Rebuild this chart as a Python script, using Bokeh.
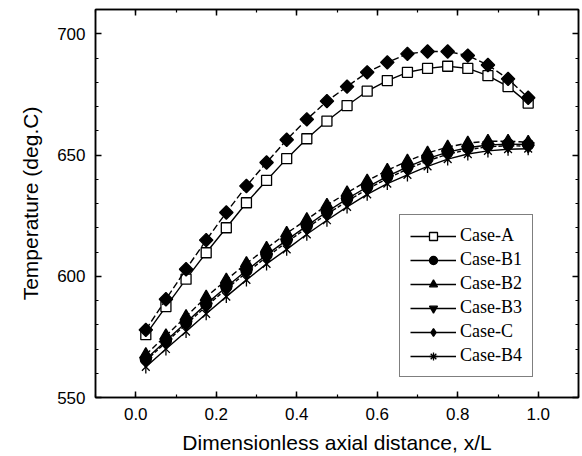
import numpy as np
from bokeh.plotting import figure
from bokeh.models import (LinearAxis, SingleIntervalTicker, NumeralTickFormatter,
                          CustomJSTickFormatter, Legend, LegendItem, Range1d,
                          ColumnDataSource)
from bokeh.embed import file_html
from bokeh.resources import INLINE

# ---------------- data ----------------
x_pos = [0.025, 0.075, 0.125, 0.175, 0.225, 0.275, 0.325, 0.375, 0.425, 0.475,
         0.525, 0.575, 0.625, 0.675, 0.725, 0.775, 0.825, 0.875, 0.925, 0.975]

case_a = [575.9, 587.5, 598.8, 609.7, 620.0, 630.3, 639.5, 648.5, 656.7, 664.0,
          670.4, 676.3, 680.7, 684.1, 685.7, 686.6, 685.7, 682.7, 678.2, 671.4]
case_b1 = [565.8, 573.4, 580.9, 588.5, 595.6, 602.4, 608.8, 614.9, 620.8, 626.6,
           631.9, 636.8, 641.2, 645.1, 648.5, 651.2, 653.0, 654.1, 654.5, 654.3]
case_b2 = [567.7, 575.5, 583.4, 591.4, 598.5, 605.3, 611.5, 617.7, 623.4, 629.3,
           634.4, 639.3, 643.7, 647.5, 650.8, 653.3, 654.9, 655.7, 655.7, 655.3]
case_b3 = [565.2, 572.7, 580.2, 587.6, 594.7, 601.5, 607.9, 614.0, 619.9, 625.6,
           630.9, 635.9, 640.3, 644.2, 647.6, 650.3, 652.2, 653.4, 653.8, 653.7]
case_c = [577.9, 590.5, 602.9, 614.9, 626.3, 637.2, 646.9, 656.3, 664.7, 672.2,
          678.2, 684.1, 688.2, 691.7, 692.7, 692.7, 691.0, 687.1, 681.4, 673.6]
case_b4 = [562.6, 570.0, 577.2, 584.5, 591.6, 598.5, 605.1, 611.1, 617.3, 623.1,
           628.6, 633.8, 638.2, 641.8, 645.3, 648.3, 650.4, 651.7, 652.4, 652.6]

labels = ["Case-A", "Case-B1", "Case-B2", "Case-B3", "Case-C", "Case-B4"]
series = [case_a, case_b1, case_b2, case_b3, case_c, case_b4]

x_label = "Dimensionless axial distance, x/L"
y_label = "Temperature (deg.C)"

# ---------------- styles ----------------
styles = {
    "Case-A":  dict(plot=[("square", 0.0, 10)], leg=[("square", 10)],
                    fill="white", dash="solid"),
    "Case-B1": dict(plot=[("circle", 0.0, 11)], leg=[("circle", 11)],
                    fill="black", dash="solid"),
    "Case-B2": dict(plot=[("triangle", 0.0, 12)], leg=[("triangle", 12)],
                    fill="black", dash="6 3"),
    "Case-B3": dict(plot=[("inverted_triangle", 0.0, 12)], leg=[("inverted_triangle", 12)],
                    fill="black", dash="4 2"),
    "Case-C":  dict(plot=[("square", np.pi / 4, 9.5)], leg=[("diamond", 16)],
                    fill="black", dash="7 3"),
    "Case-B4": dict(plot=[("x", 0.0, 11), ("dash", np.pi / 2, 13)], leg=[("asterisk", 12)],
                    fill="black", dash="solid"),
}

p = figure(width=582, height=456, output_backend="svg", toolbar_location=None,
           x_range=Range1d(-0.1, 1.1), y_range=Range1d(550, 710),
           min_border_left=95, min_border_right=4, min_border_top=9,
           min_border_bottom=58)
p.xgrid.visible = False
p.ygrid.visible = False
p.background_fill_color = "white"
p.border_fill_color = "white"
p.outline_line_color = "black"
p.outline_line_width = 1.5

xt = SingleIntervalTicker(interval=0.2, num_minor_ticks=2)
yt = SingleIntervalTicker(interval=50, num_minor_ticks=5)

def style_axis(ax, ticker):
    ax.ticker = ticker
    ax.major_tick_in = 6
    ax.major_tick_out = 0
    ax.minor_tick_in = 3
    ax.minor_tick_out = 0
    ax.major_tick_line_width = 1.5
    ax.minor_tick_line_width = 1.2
    ax.axis_line_width = 1.5
    ax.major_tick_line_color = "black"
    ax.minor_tick_line_color = "black"
    ax.axis_line_color = "black"

xa = p.xaxis[0]
ya = p.yaxis[0]
style_axis(xa, xt)
style_axis(ya, yt)
xa.formatter = NumeralTickFormatter(format="0.0")
for ax, lab in ((xa, x_label), (ya, y_label)):
    ax.axis_label = lab
    ax.axis_label_text_font = "Liberation Sans"
    ax.axis_label_text_font_style = "normal"
    ax.axis_label_text_font_size = "21px"
    ax.axis_label_text_color = "black"
    ax.major_label_text_font = "Liberation Sans"
    ax.major_label_text_font_size = "17px"
    ax.major_label_text_color = "black"
    ax.major_label_standoff = 10
xa.axis_label_standoff = 8
ya.axis_label_standoff = 12

blank = CustomJSTickFormatter(code="return ''")
top_ax = LinearAxis(formatter=blank)
style_axis(top_ax, xt)
top_ax.major_label_standoff = 0
right_ax = LinearAxis(formatter=blank)
style_axis(right_ax, yt)
right_ax.major_label_standoff = 0
p.add_layout(top_ax, "above")
p.add_layout(right_ax, "right")

items = []
for lab, ys in zip(labels, series):
    st = styles[lab]
    src = ColumnDataSource(dict(x=x_pos, y=ys))
    p.line("x", "y", source=src, line_color="black", line_width=1.4,
           line_dash=st["dash"])
    for mk, ang, sz in st["plot"]:
        p.scatter("x", "y", source=src, marker=mk, angle=ang, size=sz,
                  fill_color=st["fill"], line_color="black", line_width=1.3)
    # legend-only renderers (solid line + marker), nothing drawn in the plot
    dsrc = ColumnDataSource(dict(x=[np.nan], y=[np.nan]))
    rs = [p.line("x", "y", source=dsrc, line_color="black", line_width=1.4)]
    for mk, sz in st["leg"]:
        rs.append(p.scatter("x", "y", source=dsrc, marker=mk, size=sz,
                            fill_color=st["fill"], line_color="black",
                            line_width=1.3))
    items.append(LegendItem(label=lab, renderers=rs))

legend = Legend(items=items, location=(304, 20))
legend.border_line_color = "black"
legend.border_line_width = 1
legend.background_fill_color = "white"
legend.background_fill_alpha = 1.0
legend.label_text_font = "Liberation Serif"
legend.label_text_font_size = "18px"
legend.label_text_color = "black"
legend.glyph_width = 46
legend.glyph_height = 20
legend.label_height = 20
legend.spacing = 3
legend.padding = 10
legend.margin = 0
legend.label_standoff = 4
p.add_layout(legend)

open("out.html", "w").write(file_html(p, INLINE))
